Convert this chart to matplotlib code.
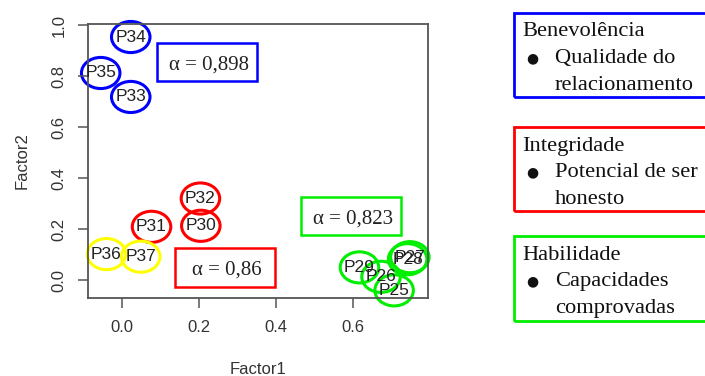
import matplotlib
matplotlib.use("Agg")
import matplotlib.pyplot as plt
from matplotlib.patches import Ellipse, Rectangle

# ---- data ----
labels = ['P34', 'P35', 'P33', 'P32', 'P30', 'P31', 'P36', 'P37',
          'P29', 'P26', 'P25', 'P27', 'P28']
factor1 = [0.023, -0.055, 0.023, 0.204, 0.205, 0.077, -0.040, 0.049,
           0.617, 0.673, 0.707, 0.748, 0.742]
factor2 = [0.953, 0.812, 0.718, 0.320, 0.213, 0.209, 0.102, 0.092,
           0.050, 0.013, -0.040, 0.090, 0.082]
groups = ['B', 'B', 'B', 'I', 'I', 'I', 'Y', 'Y',
          'H', 'H', 'H', 'H', 'H']
group_colors = {'B': '#0000FF', 'I': '#FF0000', 'Y': '#FFFF00', 'H': '#00EE00'}

alpha_texts = ['α = 0,898', 'α = 0,86', 'α = 0,823']
alpha_colors = ['#0000FF', '#FF0000', '#00EE00']

legend_titles = ['Benevolência', 'Integridade', 'Habilidade']
legend_items = [['Qualidade do', 'relacionamento'],
                ['Potencial de ser', 'honesto'],
                ['Capacidades', 'comprovadas']]

xticks = [0.0, 0.2, 0.4, 0.6]
yticks = [0.0, 0.2, 0.4, 0.6, 0.8, 1.0]

# ---- figure ----
W, H = 705, 376
fig = plt.figure(figsize=(W / 100, H / 100), dpi=100)
ax = fig.add_axes([88 / W, 1 - 298 / H, 340 / W, 274 / H])
ax.set_xlim(-0.088, 0.795)
ax.set_ylim(-0.07, 1.004)

sans = 'Liberation Sans'
txtcol = '#333333'
for s in ax.spines.values():
    s.set_color('#555555')
    s.set_linewidth(1.3)

ax.set_xticks(xticks)
ax.set_xticklabels([f'{v:.1f}' for v in xticks], family=sans)
ax.set_yticks(yticks)
ax.set_yticklabels([f'{v:.1f}' for v in yticks], rotation=90, va='center', family=sans)
ax.tick_params(direction='out', length=7.5, width=1.1, color='#555555',
               labelsize=12, labelcolor=txtcol, pad=8)
ax.set_xlabel('Factor1', fontsize=12, color=txtcol, labelpad=20, family=sans)
ax.set_ylabel('Factor2', fontsize=12, color=txtcol, labelpad=16, family=sans)

# points as labels with ellipses
for lab, x, y, g in zip(labels, factor1, factor2, groups):
    ax.text(x, y, lab, ha='center', va='center', fontsize=12.5,
            color='#222222', family=sans)
    ax.add_patch(Ellipse((x, y), 0.100, 0.122, fill=False,
                         edgecolor=group_colors[g], lw=2.2, clip_on=False))

# alpha boxes (data coords)
boxes = [(0.091, 0.780, 0.260, 0.149),
         (0.138, -0.027, 0.259, 0.152),
         (0.465, 0.176, 0.260, 0.149)]
for (bx, by, bw, bh), t, c in zip(boxes, alpha_texts, alpha_colors):
    ax.add_patch(Rectangle((bx, by), bw, bh, fill=False, edgecolor=c, lw=1.8))
    ax.text(bx + bw / 2 + 0.006, by + bh / 2 - 0.01, t, ha='center', va='center',
            fontsize=15, family='Liberation Serif', color='#222222')

# legend boxes (figure pixel coords)
leg_boxes = [(13, 97), (127, 211), (236, 321)]
for (top, bot), title, items, c in zip(leg_boxes, legend_titles, legend_items, alpha_colors):
    fig.patches.append(Rectangle((514 / W, 1 - bot / H), 210 / W, (bot - top) / H,
                                 transform=fig.transFigure, fill=False,
                                 edgecolor=c, lw=2, clip_on=False))
    y0 = top + 19
    fig.text(522 / W, 1 - y0 / H, title, ha='left', va='center',
             fontsize=16.2, family='Liberation Serif', color='#111111')
    fig.text(532 / W, 1 - (y0 + 26.5) / H, '●', ha='center', va='center',
             fontsize=10, family='DejaVu Sans', color='#111111')
    for k, it in enumerate(items):
        fig.text(555 / W, 1 - (y0 + 26.5 * (k + 1)) / H, it, ha='left', va='center',
                 fontsize=16.2, family='Liberation Serif', color='#111111')

fig.savefig('out.png', dpi=100)
